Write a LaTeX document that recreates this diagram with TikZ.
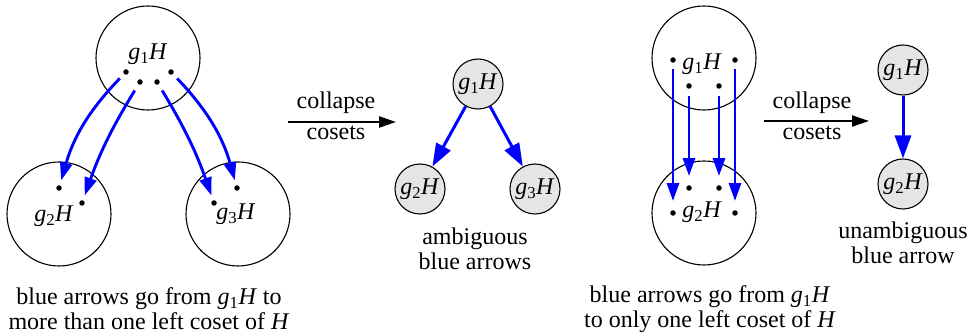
\documentclass[tikz,border=0pt]{standalone}
\usepackage{fontspec}
\setmainfont{Liberation Serif}
\usetikzlibrary{arrows.meta}
\newcommand{\gH}[1]{\textit{g}\textsubscript{#1}\textit{H}}
\begin{document}
\begin{tikzpicture}[x=1pt,y=-1pt,
  font=\rmfamily\fontsize{24}{25}\selectfont,
  bigcoset/.style={circle,draw,line width=1.1pt,minimum size=104pt,inner sep=0pt},
  smallcoset/.style={circle,draw,line width=1.1pt,fill=black!10,minimum size=50pt,inner sep=0pt},
  elem/.style={circle,fill=black,inner sep=0pt,minimum size=5.5pt},
  lbl/.style={anchor=base,inner sep=0pt},
  bluearrow/.style={draw=blue,line width=2.9pt,-{Triangle[length=18pt,width=12pt]}},
  bluearrowbig/.style={draw=blue,line width=3pt,-{Triangle[length=23pt,width=16pt]}},
  collapsearrow/.style={draw=black,line width=2.3pt,-{Triangle[length=17pt,width=11pt]}},
  caption/.style={align=center,inner sep=0pt}]
\useasboundingbox (0,0) rectangle (970,336);

% ---- left: cosets with elements ----
\node[bigcoset] (A1) at (148,58) {};
\node[bigcoset] (A2) at (59,214) {};
\node[bigcoset] (A3) at (238,214) {};
\node[lbl] (A1l) at (148,60) {\gH{1}};
\node[lbl] (A2l) at (54,222) {\gH{2}};
\node[lbl] (A3l) at (236,220) {\gH{3}};
\node[elem] (a1) at (126,72) {};
\node[elem] (a2) at (140,82) {};
\node[elem] (a3) at (157,82) {};
\node[elem] (a4) at (171,72) {};
\node[elem] (b1) at (59,188) {};
\node[elem] (b2) at (82,203) {};
\node[elem] (c1) at (214,203) {};
\node[elem] (c2) at (237,188) {};
\draw[bluearrow,shorten <=6pt,shorten >=5pt] (a1) to[bend right=14] (b1);
\draw[bluearrow,shorten <=7pt,shorten >=5pt] (a2) to[bend right=6] (b2);
\draw[bluearrow,shorten <=7pt,shorten >=5pt] (a3) to[bend left=6] (c1);
\draw[bluearrow,shorten <=6pt,shorten >=5pt] (a4) to[bend left=14] (c2);

% ---- first collapse arrow ----
\coordinate (p1) at (288,122);
\coordinate (p2) at (396,122);
\draw[collapsearrow] (p1) -- (p2);
\node[inner sep=0pt] (pc1) at (336,103) {collapse};
\node[inner sep=0pt] (pc2) at (336,133) {cosets};

% ---- middle: collapsed graph ----
\node[smallcoset] (M1) at (478,84) {\gH{1}};
\node[smallcoset] (M2) at (420,189) {\gH{2}};
\node[smallcoset] (M3) at (535,189) {\gH{3}};
\draw[bluearrowbig] (M1) -- (M2);
\draw[bluearrowbig] (M1) -- (M3);
\node[caption] (Mc) at (475,249) {ambiguous\\blue arrows};

% ---- right: cosets with elements ----
\node[bigcoset] (R1) at (704,58) {};
\node[bigcoset] (R2) at (704,213) {};
\node[lbl] (R1l) at (702,70) {\gH{1}};
\node[lbl] (R2l) at (702,218) {\gH{2}};
\node[elem] (r1) at (673,60) {};
\node[elem] (r2) at (689,86) {};
\node[elem] (r3) at (719,86) {};
\node[elem] (r4) at (735,60) {};
\node[elem] (s1) at (673,213) {};
\node[elem] (s2) at (689,188) {};
\node[elem] (s3) at (719,188) {};
\node[elem] (s4) at (735,213) {};
\draw[bluearrow,shorten <=6pt,shorten >=9pt] (r1) -- (s1);
\draw[bluearrow,shorten <=7pt,shorten >=9pt] (r2) -- (s2);
\draw[bluearrow,shorten <=7pt,shorten >=9pt] (r3) -- (s3);
\draw[bluearrow,shorten <=6pt,shorten >=9pt] (r4) -- (s4);

% ---- second collapse arrow ----
\coordinate (q1) at (764,121);
\coordinate (q2) at (869,121);
\draw[collapsearrow] (q1) -- (q2);
\node[inner sep=0pt] (qc1) at (812,103) {collapse};
\node[inner sep=0pt] (qc2) at (812,133) {cosets};

% ---- far right: collapsed graph ----
\node[smallcoset] (N1) at (903,70) {\gH{1}};
\node[smallcoset] (N2) at (903,184) {\gH{2}};
\draw[bluearrowbig] (N1) -- (N2);
\node[caption] (Nc) at (903,243) {unambiguous\\blue arrow};

% ---- bottom captions ----
\node[caption] (Lc) at (149,309) {blue arrows go from \gH{1} to\\more than one left coset of \textit{H}};
\node[caption] (Rc) at (710,309) {blue arrows go from \gH{1}\\to only one left coset of \textit{H}};
\end{tikzpicture}
\end{document}
